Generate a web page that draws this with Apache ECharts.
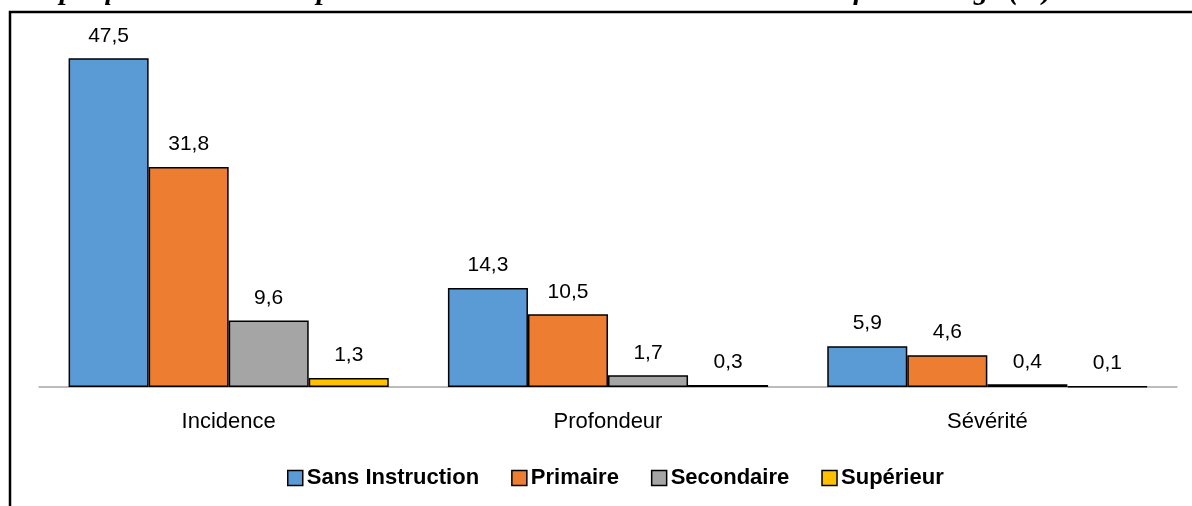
<!DOCTYPE html>
<html>
<head>
<meta charset="utf-8">
<script src="https://cdn.jsdelivr.net/npm/echarts@6/dist/echarts.min.js"></script>
<style>
  html, body { margin: 0; padding: 0; background: #fff; }
  #chart { width: 1192px; height: 506px; }
</style>
</head>
<body>
<div id="chart"></div>
<script>
// categories and series values
const categories = ['Incidence', 'Profondeur', 'Sévérité']
const sansInstruction = [47.5, 14.3, 5.9]
const primaire = [31.8, 10.5, 4.6]
const secondaire = [9.6, 1.7, 0.4]
const superieur = [1.3, 0.3, 0.1]

const seriesNames = ['Sans Instruction', 'Primaire', 'Secondaire', 'Supérieur']
const seriesColors = ['#5B9BD5', '#ED7D31', '#A5A5A5', '#FFC000']
const seriesData = [sansInstruction, primaire, secondaire, superieur]

const sans = '"Liberation Sans", Arial, sans-serif'

const chart = echarts.init(document.getElementById('chart'))

const option = {
  animation: false,
  backgroundColor: '#fff',
  graphic: [
    {
      type: 'rect',
      shape: { x: 10, y: 12, width: 1400, height: 700 },
      style: { fill: 'none', stroke: '#000', lineWidth: 2.5 },
      z: 100
    },
    {
      // titre coupé en haut de l'image
      type: 'text',
      x: 13,
      y: -23,
      style: {
        text: 'Graphique 4 : Indices de pauvreté selon le niveau d\'instruction du chef du ménage (%)',
        font: 'italic bold 29px "Liberation Serif", "Times New Roman", serif',
        fill: '#000'
      }
    }
  ],
  grid: { left: 39, right: 15, top: 41, bottom: 119, containLabel: false },
  legend: {
    top: 462,
    left: 282,
    itemWidth: 15,
    itemHeight: 15,
    itemGap: 32,
    icon: 'rect',
    textStyle: { fontFamily: sans, fontSize: 22, fontWeight: 'bold', color: '#000', padding: [0, 0, 0, -1] },
    itemStyle: { borderColor: '#000', borderWidth: 1.5 },
    data: seriesNames
  },
  xAxis: {
    type: 'category',
    data: categories,
    axisLine: { lineStyle: { color: '#A6A6A6', width: 1.5 } },
    axisTick: { show: false },
    axisLabel: { fontFamily: sans, fontSize: 22, color: '#000', margin: 24 }
  },
  yAxis: {
    type: 'value',
    min: 0,
    max: 50,
    show: false
  },
  series: seriesData.map((vals, i) => ({
    name: seriesNames[i],
    type: 'bar',
    data: vals,
    barGap: '0%',
    barCategoryGap: '15.6%',
    itemStyle: { color: seriesColors[i], borderColor: '#000', borderWidth: 1.5 },
    label: {
      show: true,
      position: 'top',
      distance: 12,
      fontFamily: sans,
      fontSize: 21,
      color: '#000',
      formatter: p => String(p.value).replace('.', ',')
    }
  }))
}

chart.setOption(option)
</script>
</body>
</html>
